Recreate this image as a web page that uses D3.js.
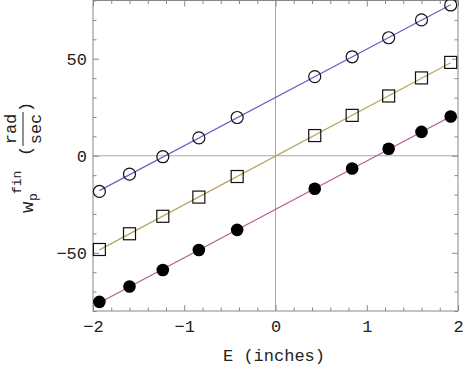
<!DOCTYPE html>
<html lang="en">
<head>
    <meta charset="UTF-8">
    <title>w_p fin vs E</title>
    <script src="https://d3js.org/d3.v7.min.js" charset="utf-8"></script>
    <style>
        body { margin: 0; background: white; }
        svg { display: block; }
        text { font-family: 'Liberation Mono', 'Courier New', monospace; fill: #222; }
    </style>
</head>
<body>
<script>
// Data
var eValues = [-1.93, -1.60, -1.235, -0.84, -0.42, 0.43, 0.84, 1.24, 1.60, 1.92];
var openCircles = [-18.4, -9.5, -0.5, 9.2, 19.7, 40.8, 51.0, 60.8, 70.0, 77.7];
var openSquares = [-48.3, -40.2, -31.2, -21.3, -10.7, 10.4, 20.8, 30.8, 40.1, 48.1];
var filledCircles = [-75.3, -67.4, -58.9, -48.6, -38.2, -17.0, -6.6, 3.6, 12.3, 20.2];
var xMajor = [-2, -1, 0, 1, 2];
var yMajor = [-50, 0, 50];

var svgwidth = 463, svgheight = 365;
var plotLeft = 93, plotRight = 458, plotTop = 0.5, plotBottom = 311;

var svg = d3.select('body').append('svg')
    .attr('width', svgwidth)
    .attr('height', svgheight);

var xScale = d3.scaleLinear().domain([-2, 2]).range([plotLeft, plotRight]);
var yScale = d3.scaleLinear().domain([-80, 80]).range([plotBottom, plotTop]);

var xMinor = d3.range(-20, 21, 2).map(d => d / 10).filter(d => xMajor.indexOf(d) < 0);
var yMinor = d3.range(-80, 81, 10).filter(d => yMajor.indexOf(d) < 0);

function fmt(d) { return d < 0 ? '\u2212' + Math.abs(d) : '' + d; }

// zero axes
svg.append('line')
    .attr('x1', xScale(0)).attr('x2', xScale(0))
    .attr('y1', plotTop).attr('y2', plotBottom)
    .attr('stroke', '#a8a8a8');
svg.append('line')
    .attr('x1', plotLeft).attr('x2', plotRight)
    .attr('y1', yScale(0)).attr('y2', yScale(0))
    .attr('stroke', '#a8a8a8');

// ticks on all four sides, pointing in
function addAxis(axis, tx, ty, values, size, labels) {
    var a = axis.tickValues(values).tickSize(-size).tickPadding(labels ? 9 : 0)
        .tickFormat(labels ? fmt : '');
    var g = svg.append('g')
        .attr('transform', 'translate(' + tx + ',' + ty + ')')
        .call(a);
    g.select('.domain').remove();
    g.selectAll('line').attr('stroke', '#888');
    g.selectAll('text').style('font-size', '17px').attr('fill', '#222');
    return g;
}
addAxis(d3.axisBottom(xScale), 0, plotBottom, xMajor, 6, true);
addAxis(d3.axisBottom(xScale), 0, plotBottom, xMinor, 3.5, false);
addAxis(d3.axisTop(xScale), 0, plotTop, xMajor, 6, false);
addAxis(d3.axisTop(xScale), 0, plotTop, xMinor, 3.5, false);
var yl = addAxis(d3.axisLeft(yScale), plotLeft, 0, yMajor, 6, true);
yl.selectAll('text').attr('dx', '3');
addAxis(d3.axisLeft(yScale), plotLeft, 0, yMinor, 3.5, false);
addAxis(d3.axisRight(yScale), plotRight, 0, yMajor, 6, false);
addAxis(d3.axisRight(yScale), plotRight, 0, yMinor, 3.5, false);

// frame
svg.append('rect')
    .attr('x', plotLeft).attr('y', plotTop)
    .attr('width', plotRight - plotLeft).attr('height', plotBottom - plotTop)
    .attr('fill', 'none')
    .attr('stroke', '#888');

// series with least squares fit lines
var series = [
    { values: openCircles, color: '#6464c8', marker: 'open' },
    { values: openSquares, color: '#b4a45c', marker: 'square' },
    { values: filledCircles, color: '#b45c96', marker: 'filled' }
];

series.forEach(function(s) {
    var pts = eValues.map((e, i) => ({ x: e, y: s.values[i] }));
    var mx = d3.mean(pts, d => d.x), my = d3.mean(pts, d => d.y);
    var slope = d3.sum(pts, d => (d.x - mx) * (d.y - my)) / d3.sum(pts, d => (d.x - mx) * (d.x - mx));
    var x0 = d3.min(pts, d => d.x), x1 = d3.max(pts, d => d.x);
    svg.append('line')
        .attr('x1', xScale(x0)).attr('y1', yScale(my + slope * (x0 - mx)))
        .attr('x2', xScale(x1)).attr('y2', yScale(my + slope * (x1 - mx)))
        .attr('stroke', s.color)
        .attr('stroke-width', 1.2);

    if (s.marker === 'square') {
        svg.selectAll(null).data(pts).enter().append('rect')
            .attr('x', d => xScale(d.x) - 6)
            .attr('y', d => yScale(d.y) - 6)
            .attr('width', 12).attr('height', 12)
            .attr('fill', 'none')
            .attr('stroke', '#111')
            .attr('stroke-width', 1.2);
    } else {
        svg.selectAll(null).data(pts).enter().append('circle')
            .attr('cx', d => xScale(d.x))
            .attr('cy', d => yScale(d.y))
            .attr('r', s.marker === 'filled' ? 6.3 : 6)
            .attr('fill', s.marker === 'filled' ? '#000' : 'none')
            .attr('stroke', '#111')
            .attr('stroke-width', s.marker === 'filled' ? 0 : 1.2);
    }
});

// x axis title
svg.append('text')
    .attr('x', 274).attr('y', 361)
    .attr('text-anchor', 'middle')
    .style('font-size', '17px')
    .text('E (inches)');

// y axis title: w_p^fin (rad/sec), rotated
var yt = svg.append('g').attr('transform', 'translate(0,156) rotate(-90)');
yt.append('text').attr('x', -57).attr('y', 33).style('font-size', '19px').text('w');
yt.append('text').attr('x', -45).attr('y', 37).style('font-size', '13px').text('p');
yt.append('text').attr('x', -38).attr('y', 21).style('font-size', '13px').text('fin');
yt.append('text').attr('x', 0).attr('y', 31).style('font-size', '17px').text('(');
yt.append('text').attr('x', 44).attr('y', 31).style('font-size', '17px').text(')');
yt.append('text').attr('x', 27).attr('y', 16).attr('text-anchor', 'middle').style('font-size', '17px').text('rad');
yt.append('text').attr('x', 27).attr('y', 41).attr('text-anchor', 'middle').style('font-size', '17px').text('sec');
yt.append('line').attr('x1', 10).attr('x2', 44).attr('y1', 23).attr('y2', 23)
    .attr('stroke', '#222').attr('stroke-width', 1);
</script>
</body>
</html>
